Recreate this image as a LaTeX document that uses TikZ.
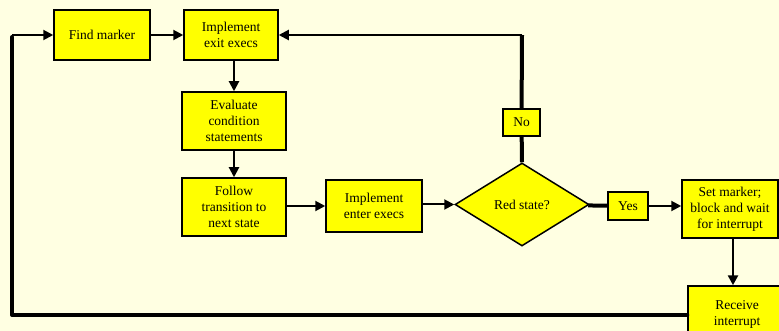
\documentclass[tikz,border=0pt]{standalone}
\usepackage{fontspec}
\setmainfont{Liberation Serif}
\usepackage{tikz}
\usetikzlibrary{shapes.geometric}
\usetikzlibrary{arrows.meta}
\usetikzlibrary{calc}
\usepackage{xcolor}
\definecolor{Fond}{HTML}{FFFFE2}
\definecolor{Boite}{HTML}{FFFF00}

\begin{document}
\begin{tikzpicture}[x=1pt,y=-1pt,
  boite/.style={draw=black,fill=Boite,line width=1.5pt,inner sep=0pt,align=center,
    font=\rmfamily\fontsize{13.5}{16}\selectfont},
  losange/.style={boite,diamond},
  fleche/.style={line width=2pt,-{Triangle[length=10pt,width=10pt]}},
  epais/.style={line width=4pt}]
% Fond
\fill[Fond] (0,0) rectangle (779,331);
\clip (0,0) rectangle (779,331);

% Boites du haut
\node[boite,minimum width=96pt,minimum height=50pt] (find) at (102,35) {Find marker};
\node[boite,minimum width=94pt,minimum height=50pt] (exit) at (231,35) {Implement\\exit execs};
\node[boite,minimum width=104pt,minimum height=58pt] (eval) at (234,121) {Evaluate\\condition\\statements};
\node[boite,minimum width=104pt,minimum height=58pt] (follow) at (234,207) {Follow\\transition to\\next state};
\node[boite,minimum width=96pt,minimum height=52pt] (enter) at (374,206) {Implement\\enter execs};

% Decision
\node[losange,minimum width=134pt,minimum height=83pt] (red) at (522,204.5) {Red state?};
\node[boite,minimum width=37pt,minimum height=27pt] (no) at (521.5,122.5) {No};
\node[boite,minimum width=40pt,minimum height=28pt] (yes) at (628,206) {Yes};

% Boites de droite
\node[boite,minimum width=96pt,minimum height=58pt] (setm) at (730,209) {Set marker;\\block and wait\\for interrupt};
\node[boite,minimum width=98pt,minimum height=56pt] (recv) at (737,314) {Receive\\interrupt};

\coordinate (turnA) at (522,35);
\coordinate (turnB) at (12,315);
\coordinate (turnC) at (12,35);

% Liaisons
\draw[fleche] (find) -- (exit);
\draw[fleche] (exit.south -| eval) -- (eval);
\draw[fleche] (eval) -- (follow);
\draw[fleche] (follow.east |- enter) -- (enter);
\draw[fleche] (enter.east |- red) -- (red);
\draw[epais] (red) -- (yes);
\draw[fleche] (yes) -- (setm.west |- yes);
\draw[fleche,line width=2.5pt] (setm.south -| 733,0) -- (recv.north -| 733,0);

% Boucle du non
\draw[epais] (red.north) -- (no);
\draw[epais] (no) -- (turnA);
\draw[fleche] (turnA) -- (exit.east);

% Grande boucle
\draw[epais,line cap=round,line join=round] (recv.west |- turnB) -- (turnB) -- ($(turnC)+(0,2)$);
\draw[fleche] (turnC) -- (find.west);
\end{tikzpicture}
\end{document}
